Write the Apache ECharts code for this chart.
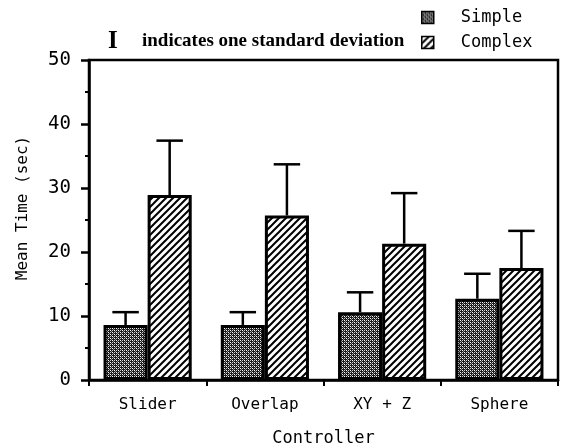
<!DOCTYPE html>
<html>
<head>
<meta charset="utf-8">
<script src="https://cdn.jsdelivr.net/npm/echarts@6/dist/echarts.min.js"></script>
<style>
  html, body { margin: 0; padding: 0; background: #fff; }
  #chart { width: 563px; height: 448px; }
</style>
</head>
<body>
<div id="chart"></div>
<script>
const controllers = ['Slider', 'Overlap', 'XY + Z', 'Sphere'];
const simpleMean = [8.6, 8.6, 10.6, 12.7];
const simpleSd = [2.0, 2.0, 3.1, 3.9];
const complexMean = [28.9, 25.7, 21.3, 17.5];
const complexSd = [8.5, 8.0, 7.9, 5.8];
const yTicks = [0, 10, 20, 30, 40, 50];

const MONO = '"DejaVu Sans Mono", monospace';
const BAR_FRAC = 0.376;

// stipple fill for "Simple"
function stipple() {
    const c = document.createElement('canvas');
    c.width = 4; c.height = 4;
    const ctx = c.getContext('2d');
    ctx.fillStyle = '#1a1a1a';
    ctx.fillRect(0, 0, 4, 4);
    ctx.fillStyle = '#ffffff';
    ctx.fillRect(0, 0, 1, 1);
    ctx.fillRect(2, 2, 1, 1);
    ctx.fillStyle = '#d0d0d0';
    ctx.fillRect(2, 0, 1, 1);
    ctx.fillRect(0, 2, 1, 1);
    ctx.fillStyle = '#888';
    ctx.fillRect(1, 1, 1, 1);
    ctx.fillRect(3, 3, 1, 1);
    return {image: c, repeat: 'repeat'};
}

// diagonal hatch for "Complex"
function hatch() {
    const s = 7;
    const c = document.createElement('canvas');
    c.width = s; c.height = s;
    const ctx = c.getContext('2d');
    ctx.fillStyle = '#fff';
    ctx.fillRect(0, 0, s, s);
    ctx.strokeStyle = '#000';
    ctx.lineWidth = 2;
    ctx.beginPath();
    ctx.moveTo(-1, s + 1); ctx.lineTo(s + 1, -1);
    ctx.moveTo(-2, 2); ctx.lineTo(2, -2);
    ctx.moveTo(s - 2, s + 2); ctx.lineTo(s + 2, s - 2);
    ctx.stroke();
    return {image: c, repeat: 'repeat'};
}

function errorData(means, sds) {
    return means.map((m, i) => [i, m, sds[i]]);
}

function errorBars(side) {
    return function(params, api) {
        const i = api.value(0);
        const mean = api.value(1);
        const sd = api.value(2);
        const band = api.size([1, 0])[0];
        const barW = band * BAR_FRAC;
        const x = api.coord([i, 0])[0] + side * barW / 2;
        const yBase = api.coord([i, mean])[1];
        const yTop = api.coord([i, mean + sd])[1];
        const half = barW * 0.3;
        const style = {stroke: '#000', lineWidth: 2.5};
        return {
            type: 'group',
            children: [
                {type: 'line', shape: {x1: x, y1: yBase, x2: x, y2: yTop}, style: style},
                {type: 'line', shape: {x1: x - half, y1: yTop, x2: x + half, y2: yTop}, style: style},
            ],
        };
    };
}

const myChart = echarts.init(document.getElementById('chart'));

const option = {
    backgroundColor: '#fff',
    animation: false,
    grid: {
        left: 89, right: 5, top: 60, bottom: 68,
        outerBoundsMode: 'none',
        show: true, borderColor: '#000', borderWidth: 2.5,
    },
    legend: {
        data: ['Simple', 'Complex'],
        orient: 'vertical',
        left: 421, top: 9,
        itemWidth: 12, itemHeight: 12, itemGap: 8,
        padding: 0,
        icon: 'rect',
        itemStyle: {borderColor: '#000', borderWidth: 1.5},
        textStyle: {fontFamily: MONO, fontSize: 17, color: '#000', padding: [0, 0, 0, 22]},
    },
    graphic: [
        {
            type: 'text', left: 108, top: 29,
            style: {text: 'I', font: 'bold 25px "Liberation Serif", serif', fill: '#000'},
        },
        {
            type: 'text', left: 142, top: 32,
            style: {text: 'indicates one standard deviation', font: 'bold 19px "Liberation Serif", serif', fill: '#000'},
        },
        {
            type: 'text', x: 23, y: 208, rotation: Math.PI / 2,
            style: {text: 'Mean Time (sec)', font: '16px ' + MONO, fill: '#000', align: 'center', verticalAlign: 'middle'},
        },
    ],
    xAxis: {
        type: 'category',
        data: controllers,
        name: 'Controller',
        nameLocation: 'middle',
        nameGap: 50,
        nameTextStyle: {fontFamily: MONO, fontSize: 17, color: '#000'},
        axisLine: {lineStyle: {color: '#000', width: 2.5}},
        axisTick: {show: true, length: 6, lineStyle: {color: '#000', width: 2}},
        axisLabel: {fontFamily: MONO, fontSize: 16, color: '#000', margin: 17},
    },
    yAxis: {
        type: 'value',
        min: yTicks[0], max: yTicks[yTicks.length - 1], interval: 10,
        axisLine: {show: true, lineStyle: {color: '#000', width: 2.5}},
        axisTick: {show: true, length: 8, lineStyle: {color: '#000', width: 2.5}},
        minorTick: {show: true, splitNumber: 2, length: 4, lineStyle: {color: '#000', width: 2}},
        splitLine: {show: false},
        axisLabel: {fontFamily: MONO, fontSize: 19, color: '#000', margin: 18},
    },
    series: [
        {
            name: 'Simple', type: 'bar', data: simpleMean,
            barWidth: (BAR_FRAC * 100) + '%', barGap: '0%',
            itemStyle: {color: stipple(), borderColor: '#000', borderWidth: 3},
        },
        {
            name: 'Complex', type: 'bar', data: complexMean,
            barWidth: (BAR_FRAC * 100) + '%', barGap: '0%',
            itemStyle: {color: hatch(), borderColor: '#000', borderWidth: 3},
        },
        {
            type: 'custom', name: 'sdSimple', z: 3,
            renderItem: errorBars(-1), data: errorData(simpleMean, simpleSd),
            encode: {x: 0, y: 1},
        },
        {
            type: 'custom', name: 'sdComplex', z: 3,
            renderItem: errorBars(1), data: errorData(complexMean, complexSd),
            encode: {x: 0, y: 1},
        },
    ],
};

myChart.setOption(option);
</script>
</body>
</html>
